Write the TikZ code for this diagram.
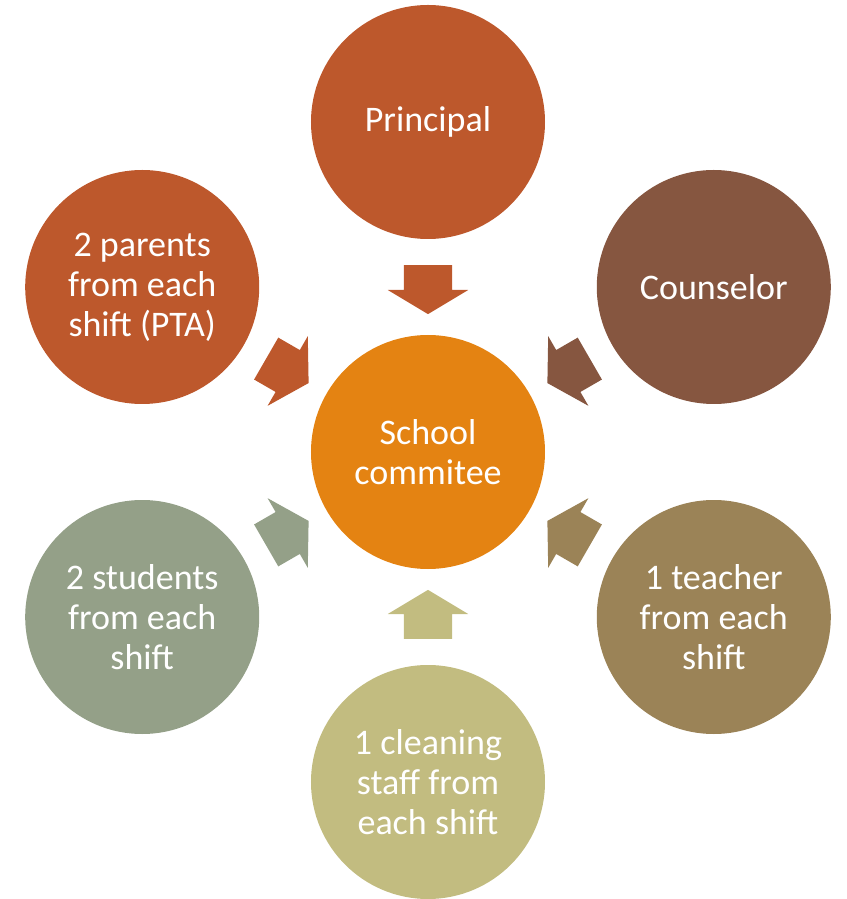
\documentclass[tikz,border=0pt]{standalone}
\usepackage{fontspec}
\setmainfont{Carlito}
\usetikzlibrary{shapes.arrows,calc}
\definecolor{schorange}{HTML}{E48312}
\definecolor{schrust}{HTML}{BD582C}
\definecolor{schbrown}{HTML}{865640}
\definecolor{schkhaki}{HTML}{9B8357}
\definecolor{schsand}{HTML}{C2BC80}
\definecolor{schsage}{HTML}{94A088}

\begin{document}
\begin{tikzpicture}
[x=1pt, y=1pt,
member/.style={circle, minimum size=234pt, inner sep=0pt, text=white, align=center, font=\fontsize{36}{40}\selectfont},
blockarrow/.style={single arrow, minimum height=49pt, minimum width=80pt, single arrow head extend=16pt, single arrow tip angle=118, inner xsep=0pt, inner ysep=24pt},
]
\useasboundingbox (-428,-447) rectangle (418,452);
%centre
\node[member, fill=schorange](sc) at (0,0) {School\\commitee};
%members
\node[member, fill=schrust](principal) at (90:330) {Principal};
\node[member, fill=schbrown](counselor) at (30:330) {Counselor};
\node[member, fill=schkhaki](teacher) at (-30:330) {1 teacher\\from each\\shift};
\node[member, fill=schsand](cleaning) at (-90:330) {1 cleaning\\staff from\\each shift};
\node[member, fill=schsage](students) at (210:330) {2 students\\from each\\shift};
\node[member, fill=schrust](parents) at (150:330) {2 parents\\from each\\shift (PTA)};
%arrows
\node[blockarrow, fill=schrust, rotate=-90](a1) at ($(principal)!0.486!(sc)$) {};
\node[blockarrow, fill=schbrown, rotate=210](a2) at ($(counselor)!0.486!(sc)$) {};
\node[blockarrow, fill=schkhaki, rotate=150](a3) at ($(teacher)!0.486!(sc)$) {};
\node[blockarrow, fill=schsand, rotate=90](a4) at ($(cleaning)!0.486!(sc)$) {};
\node[blockarrow, fill=schsage, rotate=30](a5) at ($(students)!0.486!(sc)$) {};
\node[blockarrow, fill=schrust, rotate=-30](a6) at ($(parents)!0.486!(sc)$) {};
\end{tikzpicture}
\end{document}
